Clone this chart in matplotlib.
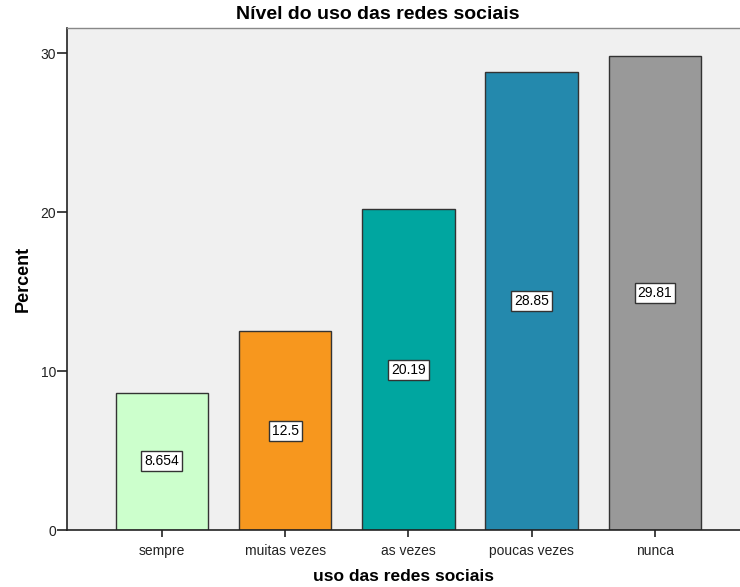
import matplotlib
matplotlib.use("Agg")
import matplotlib.pyplot as plt

# -----------------------------
# DATA
# -----------------------------
categories = ["sempre", "muitas vezes", "as vezes", "poucas vezes", "nunca"]
percents = [8.654, 12.5, 20.19, 28.85, 29.81]
value_labels = ["8.654", "12.5", "20.19", "28.85", "29.81"]
bar_colors = ["#ccffcc", "#f7971e", "#00a6a0", "#2489ad", "#999999"]

plt.rcParams["font.family"] = ["Liberation Sans", "DejaVu Sans"]

# -----------------------------
# FIGURE
# -----------------------------
fig = plt.figure(figsize=(7.4, 5.87), dpi=100)
ax = fig.add_axes([67 / 740, 57 / 587, 1 - 67 / 740, (530 - 28) / 587])
ax.set_facecolor("#f0f0f0")

x = range(len(categories))
ax.bar(x, percents, width=0.75, color=bar_colors, edgecolor="#333333", linewidth=1.0, zorder=2)

for xi, v, lab in zip(x, percents, value_labels):
    ax.text(xi, v / 2, lab, ha="center", va="center", fontsize=10, zorder=3,
            bbox=dict(boxstyle="square,pad=0.22", facecolor="white", edgecolor="#333333", linewidth=1.0))

ax.set_xlim(-0.77, 4.69)
ax.set_ylim(0, 31.6)
ax.set_yticks([0, 10, 20, 30])
ax.set_xticks(list(x))
ax.set_xticklabels(categories)
ax.tick_params(axis="both", direction="out", length=7, width=1.2, labelsize=10, colors="#222222")
ax.tick_params(axis="y", pad=1)
ax.tick_params(axis="x", length=5, pad=5)

ax.spines["right"].set_visible(False)
ax.spines["top"].set_color("#888888")
ax.spines["top"].set_linewidth(1.0)
ax.spines["left"].set_color("#222222")
ax.spines["bottom"].set_color("#222222")
ax.spines["left"].set_linewidth(1.2)
ax.spines["bottom"].set_linewidth(1.2)

ax.set_ylabel("Percent", fontsize=13, fontweight="bold", labelpad=6)
ax.set_xlabel("uso das redes sociais", fontsize=12.5, fontweight="bold", labelpad=8)
fig.text(0.51, 0.975, "Nível do uso das redes sociais", ha="center", va="center",
         fontsize=14, fontweight="bold")

fig.savefig("out.png", dpi=100)
